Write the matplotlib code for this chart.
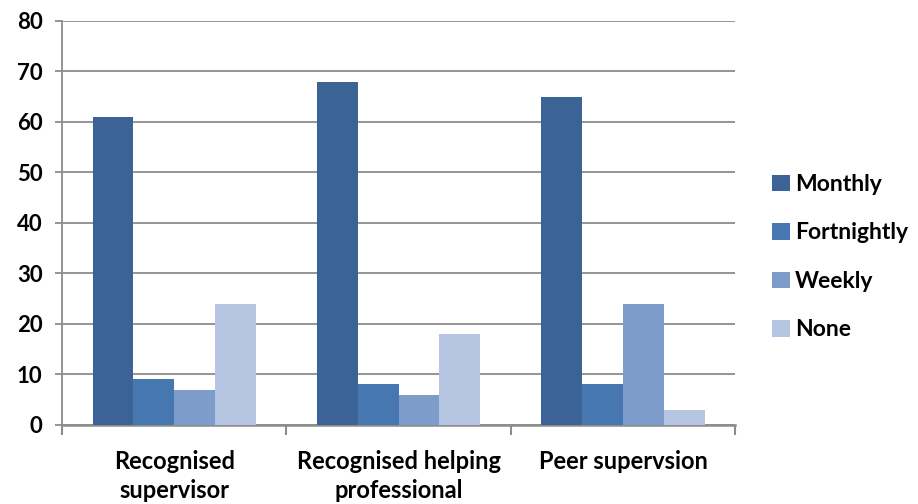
import numpy as np
import matplotlib
matplotlib.use("Agg")
import matplotlib.pyplot as plt

categories = ["Recognised\nsupervisor", "Recognised helping\nprofessional", "Peer supervsion"]
series_names = ["Monthly", "Fortnightly", "Weekly", "None"]
monthly = [61, 68, 65]
fortnightly = [9, 8, 8]
weekly = [7, 6, 24]
none = [24, 18, 3]
y_ticks = [0, 10, 20, 30, 40, 50, 60, 70, 80]

series = [monthly, fortnightly, weekly, none]
colors = ["#3C6395", "#4777B1", "#7E9CC9", "#B5C5E1"]

plt.rcParams["font.family"] = ["Lato", "DejaVu Sans"]
plt.rcParams["font.weight"] = "bold"

fig = plt.figure(figsize=(9.18, 5.04), dpi=100)
ax = fig.add_axes([0.0675, 0.157, 0.7335, 0.8015])

n_series = len(series)
bar_w = 1.0 / 5.5
x = np.arange(len(categories))
for i, (vals, name, col) in enumerate(zip(series, series_names, colors)):
    offs = (i - (n_series - 1) / 2) * bar_w
    ax.bar(x + offs, vals, width=bar_w, color=col, label=name, zorder=3)

ax.set_xlim(-0.5, len(categories) - 0.5)
ax.set_ylim(0, 80)
ax.set_yticks(y_ticks)
ax.yaxis.grid(True, color="#8C8C8C", linewidth=1.3, zorder=0)
ax.set_axisbelow(True)

# category ticks sit on the group boundaries, labels at the group centres
ax.set_xticks(np.arange(-0.5, len(categories)), minor=False)
ax.set_xticklabels([""] * (len(categories) + 1))
ax.set_xticks(x, minor=True)
ax.set_xticklabels(categories, minor=True, fontsize=17, fontweight="bold",
                   linespacing=1.3)
ax.tick_params(axis="x", which="minor", length=0, pad=18)
ax.tick_params(axis="x", which="major", length=7, width=1.5, color="#8C8C8C")
ax.tick_params(axis="y", length=5, width=1.3, color="#8C8C8C", labelsize=16, pad=9)
for lab in ax.get_yticklabels():
    lab.set_fontweight("bold")

for s in ["top", "right"]:
    ax.spines[s].set_visible(False)
ax.spines["left"].set_color("#8C8C8C")
ax.spines["left"].set_linewidth(1.3)
ax.spines["bottom"].set_color("#8C8C8C")
ax.spines["bottom"].set_linewidth(1.8)

leg = ax.legend(loc="center left", bbox_to_anchor=(1.055, 0.415), frameon=False,
                prop={"size": 16.5, "weight": "bold"}, handlelength=0.75,
                handleheight=0.75, handletextpad=0.25, labelspacing=1.2,
                borderpad=0, borderaxespad=0)

fig.savefig("out.png", dpi=100)
